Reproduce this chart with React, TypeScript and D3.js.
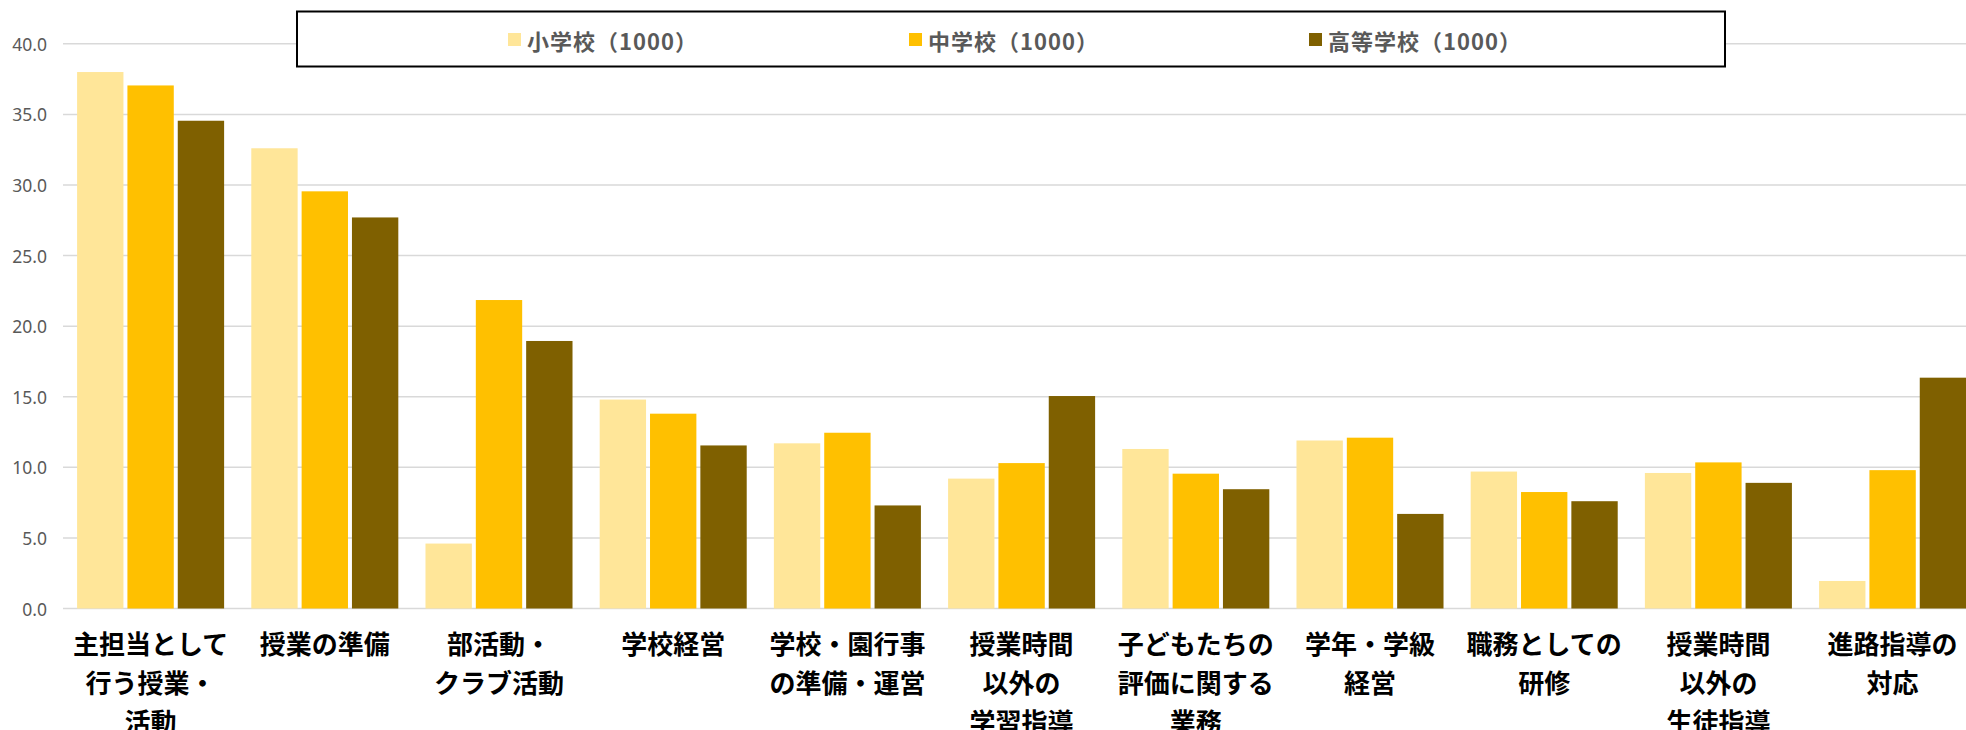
import React from "react";
import * as d3 from "d3";

const categories: string[][] = [
  ["主担当として", "行う授業・", "活動"],
  ["授業の準備"],
  ["部活動・", "クラブ活動"],
  ["学校経営"],
  ["学校・園行事", "の準備・運営"],
  ["授業時間", "以外の", "学習指導"],
  ["子どもたちの", "評価に関する", "業務"],
  ["学年・学級", "経営"],
  ["職務としての", "研修"],
  ["授業時間", "以外の", "生徒指導"],
  ["進路指導の", "対応"],
];

const seriesNames = ["小学校（1000）", "中学校（1000）", "高等学校（1000）"];
const seriesColors = ["#FFE699", "#FFC000", "#7F6000"];

const elementary = [38.0, 32.6, 4.6, 14.8, 11.7, 9.2, 11.3, 11.9, 9.7, 9.6, 1.95];
const juniorHigh = [37.05, 29.55, 21.85, 13.8, 12.45, 10.3, 9.55, 12.1, 8.25, 10.35, 9.8];
const highSchool = [34.55, 27.7, 18.95, 11.55, 7.3, 15.05, 8.45, 6.7, 7.6, 8.9, 16.35];

const seriesValues = [elementary, juniorHigh, highSchool];
const yTicks = [0, 5, 10, 15, 20, 25, 30, 35, 40];

const W = 1966;
const H = 730;

export default function App() {
  const keys = categories.map((c) => c.join(""));
  const x0 = d3
    .scaleBand<string>()
    .domain(keys)
    .range([63.5, 63.5 + 174.2 * 11])
    .paddingInner(0.156)
    .paddingOuter(0.078);
  const x1 = d3
    .scaleBand<number>()
    .domain([0, 1, 2])
    .range([0, x0.bandwidth()])
    .paddingInner(0.079)
    .paddingOuter(0);
  const y = d3.scaleLinear().domain([0, 40]).range([608.5, 43.8]);
  const fmt = d3.format(".1f");

  const legendX = [508, 909, 1309];

  return (
    <div style={{ position: "absolute", left: 0, top: 0, width: W, height: H, overflow: "hidden" }}>
      <svg width={W} height={H} style={{ display: "block" }} fontFamily="'Noto Sans CJK JP', 'Noto Sans', sans-serif">
        <rect x={0} y={0} width={W} height={H} fill="#ffffff" />
        {yTicks.map((t) => (
          <g key={t}>
            <line x1={63} x2={W} y1={y(t)} y2={y(t)} stroke="#d9d9d9" strokeWidth={1.5} />
            <text
              x={47}
              y={y(t)}
              textAnchor="end"
              dominantBaseline="central"
              fontSize={17.5}
              fontFamily="'Noto Sans', sans-serif"
              fill="#595959"
            >
              {fmt(t)}
            </text>
          </g>
        ))}
        {keys.map((k, i) => (
          <g key={k} transform={`translate(${x0(k)},0)`}>
            {seriesValues.map((vals, s) => (
              <rect
                key={s}
                x={x1(s)}
                y={y(vals[i])}
                width={x1.bandwidth()}
                height={y(0) - y(vals[i])}
                fill={seriesColors[s]}
              />
            ))}
          </g>
        ))}
        {categories.map((lines, i) => {
          const cx = (x0(keys[i]) as number) + x0.bandwidth() / 2;
          return (
            <text key={i} textAnchor="middle" fontSize={26} fontWeight="bold" fill="#000000">
              {lines.map((ln, j) => (
                <tspan key={j} x={cx} y={642.5 + j * 39} dominantBaseline="central">
                  {ln}
                </tspan>
              ))}
            </text>
          );
        })}
        <rect x={297} y={11.5} width={1428} height={55} fill="#ffffff" stroke="#000000" strokeWidth={2} />
        {seriesNames.map((name, s) => (
          <g key={name}>
            <rect x={legendX[s]} y={33} width={13} height={13} fill={seriesColors[s]} />
            <text
              x={legendX[s] + 19}
              y={40}
              dominantBaseline="central"
              fontSize={22}
              letterSpacing={1}
              fontWeight="bold"
              fill="#595959"
            >
              {name}
            </text>
          </g>
        ))}
      </svg>
    </div>
  );
}
